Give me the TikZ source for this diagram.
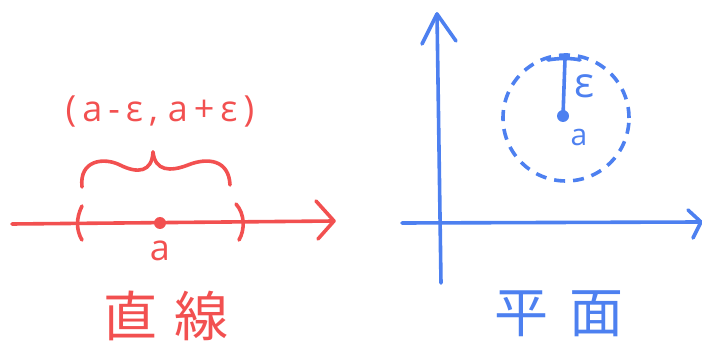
\documentclass[tikz,border=0pt]{standalone}
\usepackage{fontspec}
\setmainfont{Open Sans}
\newfontfamily\cjk{Noto Sans CJK JP}
\definecolor{myred}{RGB}{242,80,80}
\definecolor{myblue}{RGB}{77,128,240}
\begin{document}
\begin{tikzpicture}[x=1pt,y=-1pt,
  pen/.style={line width=3.6pt,line cap=round,line join=round},
  chev/.style={pen},
  lbl/.style={inner sep=0pt,font=\fontsize{36}{40}\selectfont},
  small/.style={inner sep=0pt,font=\fontsize{30}{34}\selectfont},
  kanji/.style={inner sep=0pt,font=\cjk\fontsize{54}{58}\selectfont}]
\useasboundingbox (0,0) rectangle (702,347);
% ---------- left: straight line ----------
\begin{scope}[myred]
\coordinate (lstart) at (12,224);
\coordinate (lend) at (334,221);
\draw[pen] (lstart) -- (lend);
\draw[chev] (316,201) -- (lend) -- (318,239);
\node[fill=myred,circle,inner sep=0pt,minimum size=12pt] (da) at (160,223) {};
\node[lbl,text=myred] (la) at (160,251) {a};
\draw[pen] (82,206) .. controls (76,218) and (76,230) .. (82,240);
\draw[pen] (236,204) .. controls (245,214) and (245,230) .. (239,240);
\draw[pen] (82,187) .. controls (79,160) and (104,157) .. (120,165)
  .. controls (138,174) and (152,172) .. (153,152);
\draw[pen] (153,152) .. controls (155,171) and (170,172) .. (188,165)
  .. controls (208,157) and (229,160) .. (230,185);
\node[lbl,text=myred] (interval) at (160,112) {(\,a\,-\,ε\,,\;a\,+\,ε\,)};
\node[kanji,text=myred] (t1) at (166,316) {直\hspace{18pt}線};
\end{scope}
% ---------- right: plane ----------
\begin{scope}[myblue]
\coordinate (ybot) at (441,283);
\coordinate (ytop) at (437,14);
\draw[pen] (ybot) -- (ytop);
\draw[chev] (422,44) -- (ytop) -- (456,41);
\coordinate (xl) at (402,223);
\coordinate (xr) at (701,222);
\draw[pen] (xl) -- (xr);
\draw[chev] (688,210) -- (xr) -- (693,238);
\node[draw=myblue,circle,line width=3.6pt,dash pattern=on 11pt off 8pt,minimum size=126pt,inner sep=0pt] (disc) at (566,118) {};
\node[fill=myblue,circle,inner sep=0pt,minimum size=12pt] (cb) at (563,116) {};
\coordinate (rtop) at (565,59);
\draw[pen] (cb.center) -- (rtop);
\draw[pen] (548,60) .. controls (558,58) and (572,58) .. (580,60);
\node[inner sep=0pt,font=\fontsize{42}{44}\selectfont,text=myblue] (eps) at (584,86) {ε};
\node[small,text=myblue] (lb) at (579,137) {a};
\node[kanji,text=myblue] (t2) at (559,314) {平\hspace{22pt}面};
\end{scope}
\end{tikzpicture}
\end{document}
